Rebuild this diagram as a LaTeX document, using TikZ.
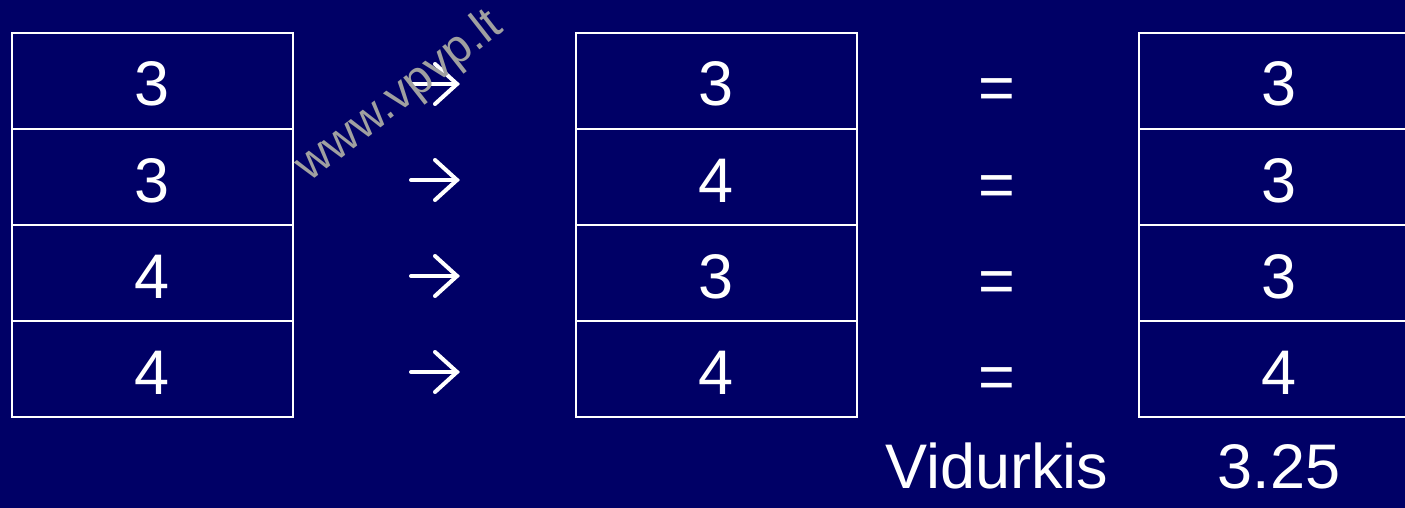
\documentclass[tikz,border=0pt]{standalone}
\usepackage{fontspec}
\setmainfont{Liberation Sans}
\usetikzlibrary{calc}
\definecolor{navy}{RGB}{0,0,102}
\definecolor{wmgray}{RGB}{160,160,160}
\tikzset{
  cell/.style={draw=white, line width=2pt, minimum width=281pt, minimum height=96pt, inner sep=0pt, text height=50pt, text depth=0pt, text=white, font=\fontsize{63}{63}\selectfont},
  sym/.style={text=white, inner sep=0pt, font=\fontsize{63}{63}\selectfont},
  arrowsym/.style={draw=white, line width=4pt, line cap=round, line join=miter},
  wm/.style={text=wmgray, inner sep=0pt, font=\fontsize{47}{47}\selectfont, rotate=38}
}
\begin{document}
\begin{tikzpicture}[x=1pt,y=-1pt]
\fill[navy] (0,0) rectangle (1405,508);
\useasboundingbox (0,0) rectangle (1405,508);
% left table
\node[cell] (a1) at (152.5,81) {3};
\node[cell] (a2) at (152.5,177) {3};
\node[cell] (a3) at (152.5,273) {4};
\node[cell] (a4) at (152.5,369) {4};
% middle table
\node[cell] (b1) at (716,81) {3};
\node[cell] (b2) at (716,177) {4};
\node[cell] (b3) at (716,273) {3};
\node[cell] (b4) at (716,369) {4};
% right table
\node[cell] (c1) at (1279,81) {3};
\node[cell] (c2) at (1279,177) {3};
\node[cell] (c3) at (1279,273) {3};
\node[cell] (c4) at (1279,369) {4};
% arrows
\foreach \i/\y in {1/84,2/180,3/276,4/372}{
  \coordinate (r\i) at (434,\y);
  \draw[arrowsym] ($(r\i)+(-23,0)$) -- ($(r\i)+(23,0)$);
  \draw[arrowsym] ($(r\i)+(1,-20)$) -- ($(r\i)+(23,0)$) -- ($(r\i)+(1,20)$);
}
% equals
\node[sym, anchor=base] (e1) at (997,110) {=};
\node[sym, anchor=base] (e2) at (997,206) {=};
\node[sym, anchor=base] (e3) at (997,302) {=};
\node[sym, anchor=base] (e4) at (997,398) {=};
% bottom labels
\node[sym, anchor=base] (vid) at (997,488) {Vidurkis};
\node[sym, anchor=base] (avg) at (1279,488) {3.25};
% watermark
\node[wm] (wmk) at (400,97) {www.vpvp.lt};
\end{tikzpicture}
\end{document}
